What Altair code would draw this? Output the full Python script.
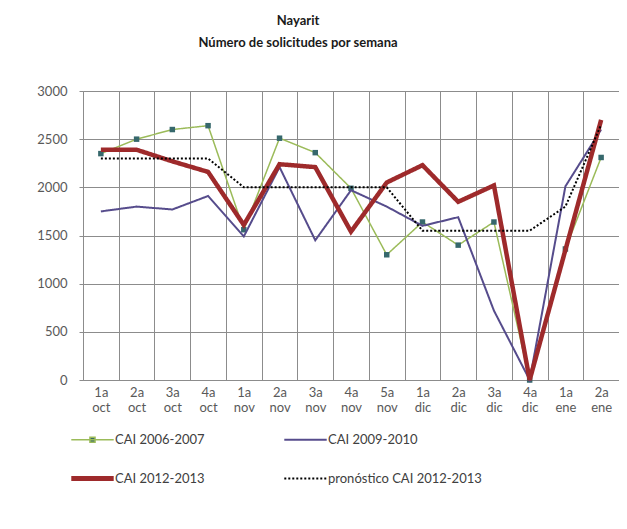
import altair as alt
import pandas as pd

cats = ["1a oct", "2a oct", "3a oct", "4a oct", "1a nov", "2a nov", "3a nov", "4a nov",
        "5a nov", "1a dic", "2a dic", "3a dic", "4a dic", "1a ene", "2a ene"]
series_names = ["CAI 2006-2007", "CAI 2009-2010", "CAI 2012-2013", "pronóstico CAI 2012-2013"]
cai0607 = [2350, 2500, 2600, 2640, 1560, 2510, 2360, 1990, 1300, 1640, 1400, 1640, 0, 1360, 2310]
cai0910 = [1750, 1800, 1770, 1910, 1490, 2210, 1450, 1970, 1800, 1600, 1690, 720, 0, 2010, 2600]
cai1213 = [2390, 2390, 2270, 2160, 1610, 2240, 2210, 1540, 2050, 2230, 1850, 2020, 0, 1350, 2700]
pron = [2300, 2300, 2300, 2300, 2000, 2000, 2000, 2000, 2000, 1550, 1550, 1550, 1550, 1800, 2650]
y_ticks = [0, 500, 1000, 1500, 2000, 2500, 3000]

rows = []
for name, vals in zip(series_names, [cai0607, cai0910, cai1213, pron]):
    for c, v in zip(cats, vals):
        rows.append({"semana": c, "serie": name, "valor": v})
df = pd.DataFrame(rows)

colors = ["#9bbb59", "#564c8c", "#9e2a2b", "#000000"]
dashes = [[1, 0], [1, 0], [1, 0], [2, 2]]
widths = [1.5, 2, 4.5, 2]
MARKER = "#36686c"
FONT = "Lato"
GRID = "#8c8c8c"

width_sig = ("datum.value == 'CAI 2012-2013' ? 5 : "
             "(datum.value == 'CAI 2006-2007' ? 1.5 : 2)")
shape_sig = ("datum.value == 'CAI 2006-2007' ? "
             "'M-1,0L1,0M-0.12,-0.12L0.12,-0.12L0.12,0.12L-0.12,0.12Z' : 'stroke'")
fill_sig = "datum.value == 'CAI 2006-2007' ? '" + MARKER + "' : 'transparent'"

x = alt.X("semana:N", sort=cats,
          scale=alt.Scale(type="band", paddingInner=0, paddingOuter=0),
          bandPosition=0.5,
          axis=alt.Axis(title=None, tickBand="extent", grid=True, gridColor=GRID,
                        labelExpr="split(datum.label, ' ')", labelAngle=0,
                        labelLineHeight=15, labelFont=FONT, labelFontSize=13,
                        labelColor="#595959", labelPadding=6, ticks=False,
                        domainColor=GRID))
y = alt.Y("valor:Q", scale=alt.Scale(domain=[0, 3000], nice=False),
          axis=alt.Axis(title=None, values=y_ticks, grid=True, gridColor=GRID, format="d",
                        labelFont=FONT, labelFontSize=13, labelColor="#595959",
                        tickSize=4, tickColor=GRID, domainColor=GRID, labelPadding=12))
color = alt.Color("serie:N", scale=alt.Scale(domain=series_names, range=colors),
                  legend=alt.Legend(title=None, orient="none", legendX=3, legendY=342,
                                    columns=2, direction="horizontal",
                                    symbolType=alt.ExprRef(shape_sig), symbolSize=1800,
                                    symbolStrokeWidth=alt.ExprRef(width_sig),
                                    symbolFillColor=alt.ExprRef(fill_sig),
                                    labelFont=FONT, labelFontSize=13, labelColor="#404040",
                                    columnPadding=75, rowPadding=21, labelOffset=16,
                                    labelLimit=300))
dash = alt.StrokeDash("serie:N", scale=alt.Scale(domain=series_names, range=dashes),
                      legend=alt.Legend(title=None))

base = alt.Chart(df)
layers = []
for i, name in enumerate(series_names):
    layers.append(base.transform_filter(alt.datum.serie == name)
                  .mark_line(strokeWidth=widths[i])
                  .encode(x=x, y=y, color=color, strokeDash=dash))
    if i == 0:
        layers.append(base.transform_filter(alt.datum.serie == name)
                      .mark_square(size=30, color=MARKER, opacity=1)
                      .encode(x=x, y=y))

chart = alt.layer(*layers).properties(
    width=536, height=289,
    autosize=alt.AutoSizeParams(type="none"),
    padding={"left": 75, "top": 83, "right": 0, "bottom": 130},
    title=alt.TitleParams(["Nayarit", "Número de solicitudes por semana"], font=FONT,
                          fontSize=13, fontWeight="bold", color="#1a1a1a",
                          anchor="middle", dx=-53, offset=35, lineHeight=22),
).configure_view(stroke=None).configure(background="white")

chart.save("out.html", embed_options={"renderer": "svg", "actions": False})
